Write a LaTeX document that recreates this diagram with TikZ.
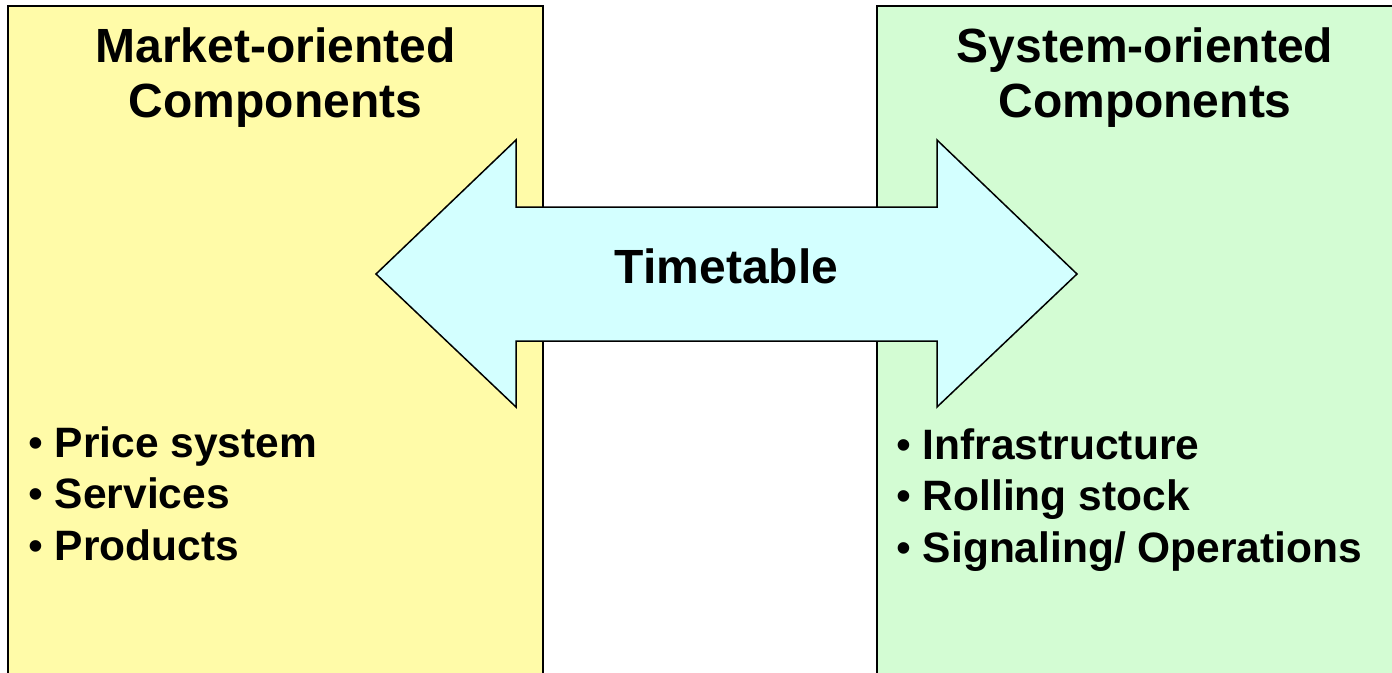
\documentclass[tikz,border=0pt]{standalone}
\usepackage{fontspec}
\setmainfont{Liberation Sans}
\usetikzlibrary{positioning}
\definecolor{mktYellow}{HTML}{FFFBA8}
\definecolor{sysGreen}{HTML}{D3FCD3}
\definecolor{ttCyan}{HTML}{D3FFFF}
\newcommand{\blt}{{\mdseries •}\ }
\tikzset{
  panel/.style={draw=black, line width=1.8pt},
  headTxt/.style={anchor=base, align=center, inner sep=0pt,
                  font=\bfseries\fontsize{48}{54.5}\selectfont},
  bulletTxt/.style={anchor=base west, align=left, inner sep=0pt,
                    font=\bfseries\fontsize{42.5}{51.5}\selectfont},
  ttArrow/.style={draw=black, fill=ttCyan, line width=1.5pt, line join=miter},
}
\begin{document}
\begin{tikzpicture}[x=1pt, y=-1pt]
    \clip (0,0) rectangle (1392,672);
    % the two columns
    \fill[white] (0,0) rectangle (1392,672);
    \draw[panel, fill=mktYellow] (8,6) rectangle (543,690);
    \draw[panel, fill=sysGreen] (877,6) rectangle (1412,690);
    % headings (base = last line)
    \node[headTxt] (mkt) at (275.5,117) {Market-oriented\\Components};
    \node[headTxt] (sys) at (1145,117) {System-oriented\\Components};
    % double arrow across the gap
    \coordinate (tipL) at (376,274);
    \coordinate (tipR) at (1077,274);
    \draw[ttArrow] (tipL) -- (516,140) -- (516,207) -- (937,207) -- (937,140)
      -- (tipR) -- (937,407) -- (937,341) -- (516,341) -- (516,407) -- cycle;
    \node[headTxt] (tt) at (726.5,283) {Timetable};
    % bullet lists
    \node[bulletTxt] (mktList) at (28,560)
      {\blt Price system\\\blt Services\\\blt Products};
    \node[bulletTxt] (sysList) at (896,562)
      {\blt Infrastructure\\\blt Rolling stock\\\blt Signaling/ Operations};
\end{tikzpicture}
\end{document}
